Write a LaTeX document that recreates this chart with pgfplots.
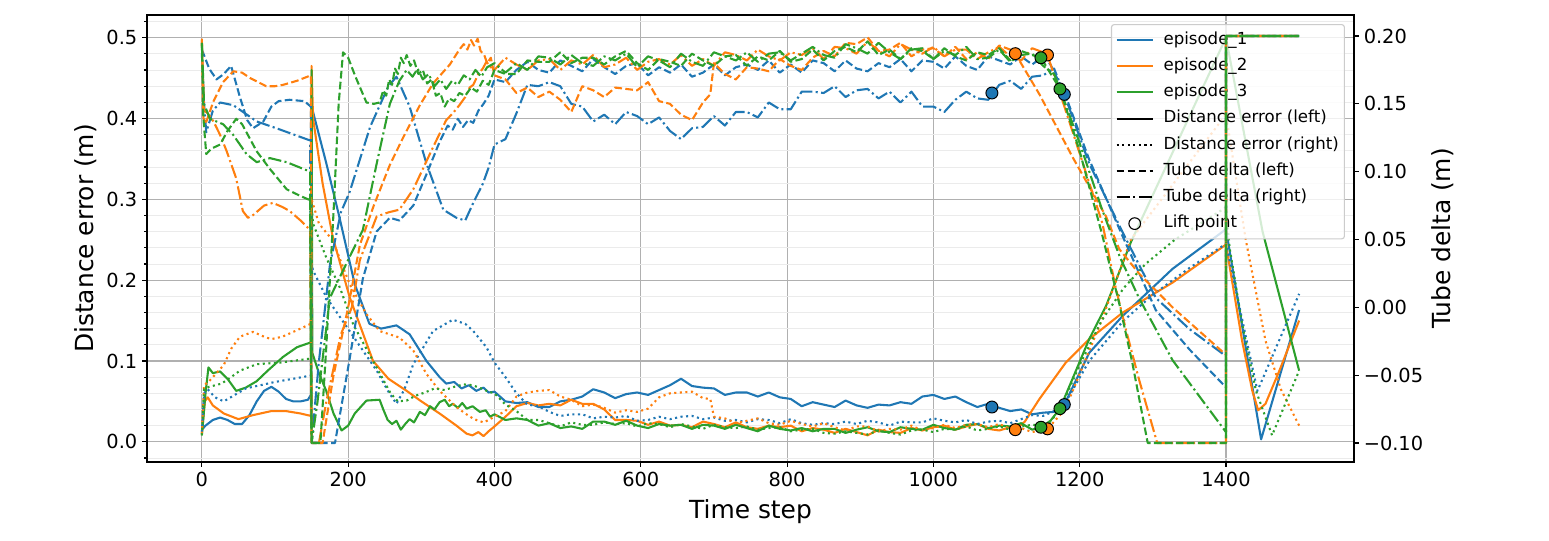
\documentclass[border=0pt]{standalone}
\usepackage{fontspec}
\setmainfont{DejaVu Sans}
\usepackage{pgfplots}
\pgfplotsset{compat=1.18}

\definecolor{c0}{HTML}{1F77B4}
\definecolor{c1}{HTML}{FF7F0E}
\definecolor{c2}{HTML}{2CA02C}

\tikzset{
  der/.style={dash pattern=on 1.5bp off 2.5bp},
  tdl/.style={dash pattern=on 5.5bp off 2.4bp},
  tdr/.style={dash pattern=on 9.6bp off 2.4bp on 1.5bp off 2.4bp},
  lift/.style={only marks, mark=*, mark size=4.3bp,
    mark options={solid, draw=black, fill=#1, line width=0.7bp}},
}

\pgfplotsset{
  twin/.style={
    width=869.04bp, height=321.84bp, scale only axis,
    at={(0,0)}, anchor=south west,
    xmin=-75, xmax=1575,
    tick align=outside,
    major tick length=3.5bp, minor tick length=2bp,
    tick style={black, line width=0.8bp},
    axis line style={black, line width=0.8bp},
    tick label style={font=\fontsize{14}{16}\selectfont},
    label style={font=\fontsize{18}{21}\selectfont},
    /pgf/number format/assume math mode=true,
    /pgf/number format/1000 sep={},
    every axis plot/.append style={line width=1.5bp, line cap=butt, line join=round},
  },
}

\begin{document}
\begin{tikzpicture}
\path[use as bounding box] (-105.84bp,-56.88bp) rectangle (1009.44bp,332.64bp);

% left axis: distance error
\begin{axis}[twin,
  ymin=-0.025, ymax=0.528,
  xtick={0,200,400,600,800,1000,1200,1400}, xtick pos=bottom,
  ytick={-0.1,0,0.1,0.2,0.3,0.4,0.5,0.6}, ytick pos=left,
  minor y tick num=4,
  yticklabel style={/pgf/number format/fixed, /pgf/number format/fixed zerofill, /pgf/number format/precision=1},
  xmajorgrids, ymajorgrids, yminorgrids,
  major grid style={color=black!31, line width=0.8bp},
  minor grid style={color=black!8, line width=0.6bp},
  xlabel={Time step}, ylabel={Distance error (m)},
  xlabel style={at={(axis description cs:0.5,-0.112)}, anchor=center},
  ylabel style={at={(axis description cs:-0.0505,0.5)}, anchor=center},
  legend image code/.code={\draw[#1] (0bp,0bp) -- (26bp,0bp);},
  legend cell align=left,
  legend style={at={(1,1)}, anchor=north east, xshift=-6.5bp, yshift=-6.5bp,
    fill=white, fill opacity=0.8, text opacity=1, draw=black!20, line width=0.8bp,
    rounded corners=2bp, inner xsep=3bp, inner ysep=4bp,
    font=\fontsize{12}{14}\selectfont, row sep=4.9bp, column sep=6bp,
    nodes={inner sep=1bp, text height=9bp, text depth=3bp}},
]
% episode_1, distance error (left)
\addplot[c0, forget plot] coordinates {(0,0.015)(5,0.02)(15,0.027)(25,0.03)(35,0.027)(45,0.022)(55,0.022)(65,0.033)(75,0.05)(85,0.063)(95,0.068)(105,0.062)(115,0.053)(125,0.05)(135,0.05)(145,0.052)(149,0.058)(150,0.415)(170,0.345)(188,0.278)(209,0.195)(229,0.146)(245,0.14)(266,0.144)(284,0.133)(307,0.10)(325,0.08)(334,0.072)(345,0.074)(355,0.066)(365,0.07)(375,0.063)(385,0.067)(392,0.061)
(400,0.062)(415,0.050)(430,0.048)(445,0.049)(460,0.043)(475,0.043)(490,0.050)(505,0.052)(520,0.056)(535,0.065)(550,0.061)(565,0.054)(580,0.059)(595,0.061)(610,0.058)(625,0.064)(640,0.070)(655,0.078)(670,0.069)(685,0.067)(700,0.066)(715,0.058)(730,0.061)(745,0.061)(760,0.056)(775,0.061)(790,0.055)(805,0.053)(820,0.044)(835,0.049)(850,0.046)(865,0.043)(880,0.051)(895,0.045)(910,0.042)(925,0.046)(940,0.045)(955,0.049)(970,0.047)(985,0.056)(1000,0.058)(1015,0.053)(1030,0.056)(1045,0.049)(1060,0.043)(1075,0.047)(1090,0.042)(1105,0.038)(1120,0.040)(1135,0.034)(1150,0.036)(1165,0.037)(1179,0.046)(1213,0.11)(1259,0.156)(1327,0.214)(1400,0.263)(1448,0.003)(1500,0.163)};
% episode_2, distance error (left)
\addplot[c1, forget plot] coordinates {(0,0.01)(4,0.05)(8,0.055)(15,0.045)(30,0.035)(50,0.028)(70,0.033)(95,0.038)(115,0.038)(135,0.035)(149,0.032)(150,0.465)(152,0.40)(165,0.32)(179,0.253)(202,0.179)(234,0.10)(255,0.078)(280,0.063)(300,0.05)(325,0.035)(348,0.02)(362,0.01)(370,0.008)(378,0.012)(385,0.007)(392,0.013)
(400,0.019)(415,0.031)(430,0.044)(445,0.048)(460,0.045)(475,0.047)(490,0.045)(505,0.052)(520,0.047)(535,0.047)(550,0.040)(565,0.027)(580,0.027)(595,0.026)(610,0.021)(625,0.025)(640,0.020)(655,0.021)(670,0.018)(685,0.025)(700,0.022)(715,0.018)(730,0.024)(745,0.018)(760,0.016)(775,0.020)(790,0.018)(805,0.020)(820,0.013)(835,0.017)(850,0.015)(865,0.011)(880,0.016)(895,0.012)(910,0.008)(925,0.015)(940,0.012)(955,0.011)(970,0.017)(985,0.014)(1000,0.018)(1015,0.020)(1030,0.015)(1045,0.019)(1060,0.022)(1075,0.016)(1090,0.014)(1105,0.018)(1112,0.015)(1125,0.025)(1145,0.053)(1181,0.098)(1213,0.127)(1259,0.16)(1327,0.197)(1400,0.244)(1422,0.125)(1436,0.063)(1444,0.039)(1454,0.047)(1473,0.088)(1500,0.15)};
% episode_3, distance error (left)
\addplot[c2, forget plot] coordinates {(0,0.008)(5,0.06)(9,0.092)(15,0.085)(25,0.087)(35,0.078)(47,0.063)(60,0.067)(75,0.075)(90,0.088)(111,0.105)(130,0.117)(149,0.123)(150,0.46)(151,0.11)(160,0.085)(170,0.063)(180,0.035)(191,0.014)(200,0.02)(209,0.035)(225,0.051)(243,0.052)(248,0.04)(254,0.027)(260,0.022)(266,0.026)(272,0.015)(278,0.022)(284,0.028)(290,0.024)(298,0.037)(305,0.033)(312,0.044)(318,0.04)(325,0.049)(332,0.052)(338,0.044)(343,0.047)(350,0.042)(356,0.048)(362,0.041)(370,0.044)(380,0.037)(388,0.039)(394,0.031)
(400,0.034)(415,0.027)(430,0.029)(445,0.027)(460,0.020)(475,0.023)(490,0.017)(505,0.019)(520,0.016)(535,0.025)(550,0.025)(565,0.021)(580,0.026)(595,0.020)(610,0.017)(625,0.022)(640,0.020)(655,0.021)(670,0.016)(685,0.021)(700,0.020)(715,0.016)(730,0.021)(745,0.017)(760,0.013)(775,0.020)(790,0.016)(805,0.014)(820,0.017)(835,0.013)(850,0.016)(865,0.016)(880,0.011)(895,0.015)(910,0.018)(925,0.013)(940,0.012)(955,0.018)(970,0.016)(985,0.015)(1000,0.021)(1015,0.017)(1030,0.015)(1045,0.021)(1060,0.022)(1075,0.017)(1090,0.020)(1105,0.019)(1120,0.023)(1135,0.015)(1147,0.018)(1160,0.026)(1173,0.041)(1213,0.127)(1236,0.168)(1270,0.247)(1400,0.5)(1450,0.26)(1500,0.088)};
% episode_1, distance error (right)
\addplot[c0, der, forget plot] coordinates {(0,0.012)(3,0.06)(8,0.065)(18,0.055)(30,0.05)(45,0.058)(60,0.066)(80,0.07)(100,0.074)(125,0.078)(149,0.082)(150,0.22)(152,0.212)(170,0.179)(202,0.137)(239,0.088)(255,0.062)(266,0.047)(277,0.065)(289,0.096)(316,0.137)(343,0.151)(360,0.146)(371,0.137)(389,0.117)
(400,0.098)(415,0.080)(430,0.060)(445,0.046)(460,0.044)(475,0.037)(490,0.032)(505,0.034)(520,0.034)(535,0.029)(550,0.031)(565,0.030)(580,0.032)(595,0.026)(610,0.027)(625,0.031)(640,0.028)(655,0.031)(670,0.032)(685,0.028)(700,0.030)(715,0.026)(730,0.027)(745,0.024)(760,0.028)(775,0.027)(790,0.023)(805,0.028)(820,0.023)(835,0.021)(850,0.023)(865,0.022)(880,0.025)(895,0.022)(910,0.026)(925,0.024)(940,0.020)(955,0.025)(970,0.024)(985,0.024)(1000,0.029)(1015,0.026)(1030,0.024)(1045,0.027)(1060,0.022)(1075,0.025)(1090,0.026)(1105,0.023)(1120,0.028)(1135,0.033)(1150,0.032)(1165,0.038)(1179,0.046)(1213,0.1)(1259,0.149)(1300,0.182)(1350,0.215)(1400,0.245)(1443,0.063)(1500,0.183)};
% episode_2, distance error (right)
\addplot[c1, der, forget plot] coordinates {(0,0.01)(3,0.07)(10,0.075)(20,0.085)(30,0.095)(40,0.115)(52,0.13)(70,0.136)(85,0.13)(95,0.127)(110,0.13)(130,0.138)(149,0.146)(150,0.30)(160,0.27)(179,0.249)(202,0.195)(225,0.158)(243,0.137)(270,0.129)(289,0.113)(307,0.084)(325,0.063)(348,0.043)(360,0.035)(372,0.028)(385,0.024)(392,0.027)
(400,0.031)(415,0.038)(430,0.056)(445,0.061)(460,0.063)(475,0.064)(490,0.056)(505,0.052)(520,0.044)(535,0.046)(550,0.042)(565,0.036)(580,0.039)(595,0.037)(610,0.041)(625,0.055)(640,0.060)(655,0.061)(670,0.062)(685,0.054)(695,0.053)(700,0.031)(715,0.029)(730,0.023)(745,0.026)(760,0.029)(775,0.023)(790,0.021)(805,0.026)(820,0.022)(835,0.019)(850,0.023)(865,0.018)(880,0.014)(895,0.019)(910,0.019)(925,0.013)(940,0.016)(955,0.015)(970,0.020)(985,0.014)(1000,0.017)(1015,0.021)(1030,0.017)(1045,0.021)(1060,0.022)(1075,0.018)(1090,0.022)(1105,0.016)(1120,0.017)(1135,0.012)(1156,0.016)(1180,0.04)(1230,0.15)(1270,0.25)(1400,0.405)(1427,0.25)(1454,0.125)(1475,0.065)(1500,0.02)};
% episode_3, distance error (right)
\addplot[c2, der, forget plot] coordinates {(0,0.008)(3,0.065)(10,0.068)(27,0.072)(40,0.08)(52,0.088)(75,0.096)(107,0.098)(149,0.103)(150,0.29)(152,0.27)(170,0.228)(189,0.19)(207,0.145)(225,0.115)(243,0.085)(258,0.06)(268,0.05)(280,0.051)(292,0.057)(305,0.061)(318,0.066)(332,0.064)(345,0.068)(358,0.071)(370,0.07)(382,0.066)(392,0.062)
(400,0.060)(415,0.046)(430,0.038)(445,0.027)(460,0.027)(475,0.023)(490,0.019)(505,0.024)(520,0.021)(535,0.021)(550,0.024)(565,0.022)(580,0.023)(595,0.019)(610,0.023)(625,0.022)(640,0.018)(655,0.022)(670,0.019)(685,0.016)(700,0.021)(715,0.018)(730,0.017)(745,0.019)(760,0.015)(775,0.017)(790,0.018)(805,0.013)(820,0.015)(835,0.016)(850,0.011)(865,0.010)(880,0.013)(895,0.011)(910,0.009)(925,0.014)(940,0.011)(955,0.009)(970,0.014)(985,0.015)(1000,0.012)(1015,0.016)(1030,0.015)(1045,0.019)(1060,0.014)(1075,0.016)(1090,0.019)(1105,0.015)(1120,0.019)(1135,0.021)(1150,0.020)(1160,0.025)(1173,0.04)(1200,0.095)(1230,0.15)(1260,0.19)(1290,0.22)(1330,0.25)(1400,0.29)(1405,0.24)(1422,0.146)(1441,0.063)(1463,0.008)(1500,0.088)};
% lift points on the distance errors
\addplot[lift=c0, forget plot] coordinates {(1080,0.043)(1179,0.046)};
\addplot[lift=c1, forget plot] coordinates {(1112,0.015)(1156,0.016)};
\addplot[lift=c2, forget plot] coordinates {(1147,0.018)(1173,0.041)};

\addlegendimage{c0, line width=1.5bp}
\addlegendentry{episode\_1}
\addlegendimage{c1, line width=1.5bp}
\addlegendentry{episode\_2}
\addlegendimage{c2, line width=1.5bp}
\addlegendentry{episode\_3}
\addlegendimage{black, line width=1.5bp}
\addlegendentry{Distance error (left)}
\addlegendimage{black, line width=1.5bp, der}
\addlegendentry{Distance error (right)}
\addlegendimage{black, line width=1.5bp, tdl}
\addlegendentry{Tube delta (left)}
\addlegendimage{black, line width=1.5bp, tdr}
\addlegendentry{Tube delta (right)}
\addlegendimage{legend image code/.code={\draw[black, line width=0.8bp] (13bp,0bp) circle (4.2bp);}}
\addlegendentry{Lift point}
\end{axis}

% right axis: tube delta
\begin{axis}[twin,
  ymin=-0.114, ymax=0.2155,
  axis x line=none, axis y line*=right,
  ytick={-0.1,-0.05,0,0.05,0.1,0.15,0.2},
  yticklabels={−0.10,−0.05,0.00,0.05,0.10,0.15,0.20},
  ylabel={Tube delta (m)},
  ylabel style={at={(axis description cs:1.0735,0.5)}, anchor=center},
]
% episode_1, tube delta (left)
\addplot[c0, tdl] coordinates {(0,0.19)(10,0.176)(20,0.168)(30,0.172)(40,0.178)(52,0.155)(62,0.138)(70,0.132)(84,0.137)(95,0.148)(105,0.152)(120,0.153)(140,0.152)(149,0.148)(150,-0.1)(182,-0.1)(202,-0.038)(220,0.021)(239,0.056)(257,0.066)(270,0.064)(289,0.075)(307,0.098)(325,0.122)(336,0.134)(343,0.131)(350,0.139)(357,0.133)(364,0.138)(371,0.136)(378,0.145)(385,0.150)(392,0.156)
(400,0.168)(415,0.166)(430,0.175)(445,0.181)(460,0.175)(475,0.173)(490,0.182)(505,0.178)(520,0.174)(535,0.183)(550,0.177)(565,0.172)(580,0.178)(595,0.180)(610,0.171)(625,0.177)(640,0.173)(655,0.179)(670,0.170)(685,0.173)(700,0.179)(715,0.171)(730,0.177)(745,0.179)(760,0.175)(775,0.182)(790,0.173)(805,0.179)(820,0.173)(835,0.182)(850,0.180)(865,0.174)(880,0.182)(895,0.176)(910,0.174)(925,0.180)(940,0.177)(955,0.183)(970,0.174)(985,0.182)(1000,0.181)(1015,0.176)(1030,0.185)(1045,0.178)(1060,0.175)(1075,0.185)(1090,0.182)(1105,0.179)(1120,0.185)(1135,0.179)(1150,0.185)(1160,0.179)(1180,0.157)(1213,0.109)(1259,0.052)(1304,-0.002)(1350,-0.031)(1400,-0.059)(1400,0.2)(1500,0.2)};
% episode_1, tube delta (right)
\addplot[c0, tdr] coordinates {(0,0.187)(3,0.15)(6,0.129)(15,0.145)(25,0.151)(43,0.149)(75,0.137)(102,0.132)(148,0.123)(150,-0.1)(160,-0.04)(175,0.031)(190,0.07)(202,0.085)(230,0.133)(255,0.163)(266,0.17)(284,0.148)(307,0.106)(330,0.072)(348,0.066)(360,0.064)(371,0.077)(384,0.091)(392,0.103)
(400,0.120)(415,0.124)(430,0.143)(445,0.164)(460,0.163)(475,0.166)(490,0.163)(505,0.150)(520,0.148)(535,0.137)(550,0.142)(565,0.135)(580,0.144)(595,0.141)(610,0.135)(625,0.140)(640,0.130)(655,0.124)(670,0.132)(685,0.133)(700,0.141)(715,0.134)(730,0.144)(745,0.144)(760,0.140)(775,0.151)(790,0.146)(805,0.146)(820,0.159)(835,0.159)(850,0.158)(865,0.163)(880,0.155)(895,0.160)(910,0.161)(925,0.154)(940,0.159)(955,0.151)(970,0.159)(985,0.148)(1000,0.148)(1015,0.144)(1030,0.153)(1045,0.159)(1060,0.154)(1075,0.153)(1090,0.164)(1105,0.167)(1120,0.161)(1135,0.170)(1150,0.171)(1165,0.176)(1179,0.157)(1213,0.106)(1259,0.055)(1304,0.007)(1350,-0.016)(1400,-0.036)(1400,0.2)(1500,0.2)};
% episode_2, tube delta (left)
\addplot[c1, tdl] coordinates {(0,0.198)(2,0.14)(5,0.135)(10,0.143)(16,0.152)(29,0.166)(43,0.174)(55,0.173)(66,0.169)(88,0.163)(100,0.163)(111,0.164)(130,0.167)(149,0.171)(150,-0.1)(165,-0.1)(180,-0.05)(200,0.0)(216,0.046)(235,0.075)(257,0.105)(275,0.125)(298,0.149)(316,0.165)(339,0.179)(352,0.19)(358,0.194)(363,0.19)(368,0.197)(372,0.193)(377,0.198)(381,0.189)(386,0.186)(390,0.18)(395,0.184)
(400,0.171)(415,0.168)(430,0.158)(445,0.162)(460,0.155)(475,0.159)(490,0.153)(505,0.144)(520,0.163)(535,0.160)(550,0.155)(565,0.162)(580,0.161)(595,0.160)(610,0.166)(625,0.152)(640,0.150)(655,0.142)(670,0.138)(685,0.151)(695,0.157)(700,0.180)(715,0.172)(730,0.168)(745,0.177)(760,0.176)(775,0.174)(790,0.183)(805,0.178)(820,0.175)(835,0.184)(850,0.189)(865,0.185)(880,0.195)(895,0.194)(910,0.199)(925,0.189)(940,0.190)(955,0.195)(970,0.185)(985,0.190)(1000,0.191)(1015,0.185)(1030,0.192)(1045,0.183)(1060,0.188)(1075,0.183)(1090,0.193)(1105,0.190)(1112,0.187)(1145,0.157)(1190,0.111)(1236,0.067)(1254,0.043)(1281,0.025)(1327,0.0)(1400,-0.035)(1400,0.2)(1500,0.2)};
% episode_2, tube delta (right)
\addplot[c1, tdr] coordinates {(0,0.197)(3,0.145)(8,0.143)(16,0.137)(25,0.127)(34,0.115)(47,0.095)(56,0.071)(63,0.066)(70,0.068)(85,0.075)(97,0.077)(110,0.074)(120,0.071)(135,0.064)(148,0.057)(150,-0.1)(160,-0.1)(170,-0.07)(190,-0.02)(205,0.0)(216,0.035)(239,0.067)(255,0.07)(270,0.072)(289,0.087)(316,0.118)(334,0.138)(343,0.143)(352,0.149)(360,0.155)(366,0.162)(371,0.164)(378,0.172)(384,0.176)(389,0.181)(395,0.177)
(400,0.175)(415,0.184)(430,0.179)(445,0.175)(460,0.182)(475,0.183)(490,0.175)(505,0.182)(520,0.179)(535,0.186)(550,0.177)(565,0.179)(580,0.184)(595,0.175)(610,0.181)(625,0.183)(640,0.179)(655,0.186)(670,0.178)(685,0.183)(700,0.178)(715,0.188)(730,0.186)(745,0.182)(760,0.190)(775,0.185)(790,0.182)(805,0.188)(820,0.186)(835,0.191)(850,0.183)(865,0.192)(880,0.191)(895,0.187)(910,0.196)(925,0.189)(940,0.185)(955,0.194)(970,0.190)(985,0.187)(1000,0.192)(1015,0.185)(1030,0.190)(1045,0.190)(1060,0.183)(1075,0.188)(1090,0.192)(1105,0.185)(1120,0.182)(1135,0.191)(1150,0.188)(1156,0.186)(1190,0.130)(1231,0.062)(1249,0.015)(1263,-0.016)(1281,-0.053)(1306,-0.1)(1400,-0.1)(1400,0.2)(1500,0.2)};
% episode_3, tube delta (left)
\addplot[c2, tdl] coordinates {(0,0.195)(2,0.14)(6,0.113)(13,0.117)(25,0.12)(35,0.13)(47,0.139)(55,0.135)(65,0.125)(75,0.115)(93,0.102)(116,0.087)(135,0.082)(148,0.079)(150,-0.1)(162,-0.1)(170,-0.03)(180,0.07)(187,0.15)(193,0.188)(200,0.184)(210,0.17)(225,0.151)(235,0.15)(243,0.151)(248,0.16)(252,0.156)(256,0.168)(260,0.164)(264,0.176)(268,0.172)(272,0.184)(276,0.18)(280,0.186)(285,0.178)(290,0.182)(296,0.172)(302,0.175)(308,0.165)(314,0.168)(320,0.156)(326,0.158)(332,0.148)(338,0.154)(345,0.152)(352,0.158)(360,0.156)(368,0.162)(376,0.159)(384,0.167)(392,0.164)
(400,0.175)(415,0.172)(430,0.172)(445,0.182)(460,0.181)(475,0.181)(490,0.188)(505,0.180)(520,0.184)(535,0.184)(550,0.179)(565,0.185)(580,0.189)(595,0.180)(610,0.175)(625,0.183)(640,0.181)(655,0.178)(670,0.187)(685,0.182)(700,0.178)(715,0.185)(730,0.186)(745,0.178)(760,0.185)(775,0.182)(790,0.189)(805,0.181)(820,0.183)(835,0.190)(850,0.182)(865,0.189)(880,0.192)(895,0.188)(910,0.196)(925,0.186)(940,0.190)(955,0.183)(970,0.191)(985,0.189)(1000,0.183)(1015,0.191)(1030,0.185)(1045,0.182)(1060,0.188)(1075,0.186)(1090,0.191)(1105,0.182)(1120,0.189)(1135,0.186)(1147,0.184)(1173,0.161)(1200,0.115)(1230,0.055)(1254,0.003)(1272,-0.041)(1293,-0.1)(1400,-0.1)(1400,0.2)(1500,0.2)};
% episode_3, tube delta (right)
\addplot[c2, tdr] coordinates {(0,0.195)(3,0.15)(11,0.139)(29,0.135)(43,0.127)(61,0.113)(75,0.107)(93,0.11)(116,0.107)(148,0.1)(150,-0.1)(158,-0.07)(175,0.007)(200,0.035)(220,0.057)(239,0.106)(257,0.15)(270,0.167)(280,0.175)(288,0.17)(295,0.176)(302,0.168)(310,0.172)(318,0.163)(326,0.168)(334,0.161)(342,0.167)(350,0.164)(358,0.171)(366,0.168)(374,0.175)(382,0.17)(390,0.177)
(400,0.180)(415,0.173)(430,0.180)(445,0.175)(460,0.185)(475,0.184)(490,0.179)(505,0.186)(520,0.180)(535,0.178)(550,0.185)(565,0.182)(580,0.187)(595,0.177)(610,0.185)(625,0.182)(640,0.177)(655,0.187)(670,0.181)(685,0.178)(700,0.188)(715,0.185)(730,0.182)(745,0.188)(760,0.181)(775,0.187)(790,0.188)(805,0.182)(820,0.187)(835,0.192)(850,0.186)(865,0.184)(880,0.194)(895,0.191)(910,0.187)(925,0.195)(940,0.188)(955,0.183)(970,0.190)(985,0.191)(1000,0.183)(1015,0.189)(1030,0.186)(1045,0.192)(1060,0.183)(1075,0.184)(1090,0.190)(1105,0.181)(1120,0.186)(1135,0.187)(1150,0.178)(1165,0.172)(1173,0.161)(1200,0.121)(1230,0.073)(1255,0.037)(1281,0.007)(1327,-0.039)(1400,-0.092)(1400,0.2)(1500,0.2)};
% lift points on the tube deltas
\addplot[lift=c0] coordinates {(1080,0.158)(1179,0.157)};
\addplot[lift=c1] coordinates {(1112,0.187)(1156,0.186)};
\addplot[lift=c2] coordinates {(1147,0.184)(1173,0.161)};
\end{axis}
\end{tikzpicture}
\end{document}
